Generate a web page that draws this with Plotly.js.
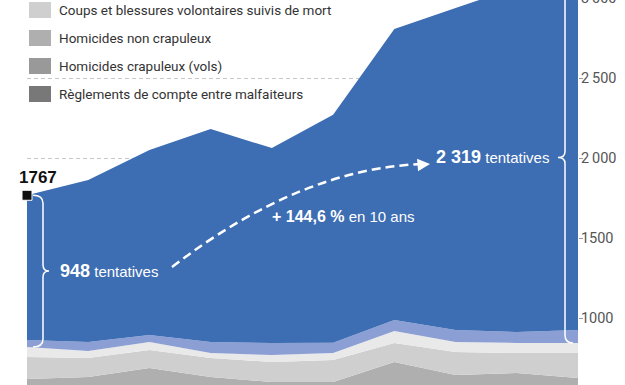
<!DOCTYPE html>
<html>
<head>
<meta charset="utf-8">
<script src="https://cdn.plot.ly/plotly-3.0.1.min.js"></script>
<style>
  html, body { margin: 0; padding: 0; background: #fff; overflow: hidden; }
  #chart { position: absolute; left: 0; top: -10px; width: 625px; height: 395px; }
</style>
</head>
<body>
<div id="chart"></div>
<script>
// ---- data ----
const years = [2009, 2010, 2011, 2012, 2013, 2014, 2015, 2016, 2017, 2018];
const reglements    = [75, 66, 68, 59, 70, 64, 57, 61, 58, 66];
const crapuleux     = [60, 55, 55, 53, 50, 45, 45, 40, 42, 40];
const nonCrapuleux  = [484, 510, 565, 519, 480, 491, 623, 543, 556, 519];
const coupsMort     = [137, 119, 112, 119, 125, 138, 119, 144, 125, 156];
const enfants       = [63, 44, 50, 31, 44, 44, 75, 62, 63, 63];
const tentCrap      = [43, 56, 44, 69, 75, 63, 69, 75, 68, 81];
const tentAutres    = [905, 1012, 1156, 1331, 1218, 1425, 1818, 2012, 2156, 2238];

const legendNames = [
  "Coups et blessures volontaires suivis de mort",
  "Homicides non crapuleux",
  "Homicides crapuleux (vols)",
  "Règlements de compte entre malfaiteurs"
];
const tickVals = [1000, 1500, 2000, 2500, 3000];
const tickText = ["1000", "1500", "2\u2009000", "2\u2009500", "3\u2009000"];

// ---- styles ----
const C_BLUE = "#3d6db2", C_PERI = "#8b9fd5", C_LIGHT = "#e9e9e9",
      C_COUPS = "#cfcfcf", C_NONC = "#afafaf", C_CRAP = "#999999", C_REG = "#787878";
const F_NARROW = 'Roboto, "Liberation Sans", sans-serif';
const F_SANS = '"Liberation Sans", Arial, sans-serif';

const layers = [
  {y: reglements, c: C_REG, n: legendNames[3]},
  {y: crapuleux, c: C_CRAP, n: legendNames[2]},
  {y: nonCrapuleux, c: C_NONC, n: legendNames[1]},
  {y: coupsMort, c: C_COUPS, n: legendNames[0]},
  {y: enfants, c: C_LIGHT, n: "enfants"},
  {y: tentCrap, c: C_PERI, n: "tentatives (vols)"},
  {y: tentAutres, c: C_BLUE, n: "tentatives"}
];

const traces = layers.map(l => ({
  type: "scatter", x: years, y: l.y, name: l.n, stackgroup: "one",
  mode: "none", fillcolor: l.c, line: {width: 0}, showlegend: false, hoverinfo: "skip"
}));

const totals = years.map((_, i) => layers.reduce((s, l) => s + l.y[i], 0));
const tent = years.map((_, i) => tentAutres[i] + tentCrap[i]);
const first = 0, last = years.length - 1;

traces.push({
  type: "scatter", x: [years[first]], y: [totals[first]], mode: "markers",
  marker: {symbol: "square", size: 10, color: "#111", line: {color: "#fff", width: 1}},
  cliponaxis: false, showlegend: false, hoverinfo: "skip"
});

// ---- geometry helpers (plot area in page pixels) ----
const L = 27, R = 578, T = -10, B = 385;
const px = x => (x - L) / (R - L);
const py = y => (B - y) / (B - T);
const U = 6.25; // data units per pixel on y

function brace(xe, xs, xt, top, bot) {
  const mid = (top + bot) / 2;
  return `M${px(xe)},${top} Q${px(xs)},${top} ${px(xs)},${top - 8*U} L${px(xs)},${mid + 6*U} Q${px(xs)},${mid} ${px(xt)},${mid} Q${px(xs)},${mid} ${px(xs)},${mid - 6*U} L${px(xs)},${bot + 8*U} Q${px(xs)},${bot} ${px(xe)},${bot}`;
}

const fmt = n => String(n).replace(/\B(?=(\d{3})+(?!\d))/g, "\u00a0");
const pct = ((tent[last] / tent[first] - 1) * 100).toFixed(1).replace(".", ",");

const shapes = [
  {type: "path", xref: "paper", yref: "y", path: brace(33, 43, 49, totals[first], totals[first] - tent[first]),
   line: {color: "#fff", width: 1.5}},
  {type: "path", xref: "paper", yref: "y", path: brace(573, 565, 558, totals[last], totals[last] - tent[last]),
   line: {color: "#fff", width: 1.5}},
  {type: "path", xref: "paper", yref: "paper",
   path: `M${px(172)},${py(267)} Q${px(301)},${py(168)} ${px(423)},${py(164)}`,
   line: {color: "#fff", width: 2.5, dash: "9px,5px"}}
];

const annotations = [
  {xref: "x", yref: "y", x: years[first], y: totals[first], xshift: 11, yshift: 18,
   xanchor: "center", yanchor: "middle",
   text: "<b>" + totals[first] + "</b>", showarrow: false,
   font: {family: F_SANS, size: 17, color: "#111"}},
  {xref: "paper", yref: "y", x: px(58), y: totals[first] - tent[first] / 2, xanchor: "left", yanchor: "middle",
   text: '<span style="font-weight:bold;font-size:18px">' + fmt(tent[first]) + '</span> tentatives',
   showarrow: false, font: {family: F_SANS, size: 15, color: "#fff"}},
  {xref: "paper", yref: "y", x: px(551), y: totals[last] - tent[last] / 2, xanchor: "right", yanchor: "middle",
   text: '<span style="font-weight:bold;font-size:18px">' + fmt(tent[last]) + '</span> tentatives',
   showarrow: false, font: {family: F_SANS, size: 15, color: "#fff"}},
  {xref: "paper", yref: "paper", x: px(343), y: py(217), xanchor: "center", yanchor: "middle",
   text: '<span style="font-weight:bold;font-size:16px">+ ' + pct + ' %</span> en 10 ans',
   showarrow: false, font: {family: F_SANS, size: 15, color: "#fff"}},
  {xref: "paper", yref: "paper", x: px(430), y: py(164), ax: -12, ay: 1, text: "",
   showarrow: true, arrowhead: 2, arrowsize: 1, arrowwidth: 2.5, arrowcolor: "#fff"}
];

// manual legend (top-left)
const legColors = [C_COUPS, C_NONC, C_CRAP, C_REG];
legendNames.forEach((n, i) => {
  const cy = 10 + i * 28;
  shapes.push({type: "rect", xref: "paper", yref: "paper", x0: px(29), x1: px(51),
    y0: py(cy + 8), y1: py(cy - 8), fillcolor: legColors[i], line: {width: 0}});
  annotations.push({xref: "paper", yref: "paper", x: px(57), y: py(cy), xanchor: "left", yanchor: "middle",
    text: n, showarrow: false, font: {family: F_NARROW, size: 13.5, color: "#333"}});
});

const layout = {
  width: 625, height: 395,
  margin: {l: L, r: 625 - R, t: 0, b: 0},
  paper_bgcolor: "#fff", plot_bgcolor: "#fff",
  showlegend: false,
  xaxis: {range: [years[first], years[last]], visible: false, fixedrange: true},
  yaxis: {
    range: [581.25, 3050], side: "right", tickvals: tickVals, ticktext: tickText,
    ticks: "outside", ticklen: 4, tickcolor: "#9a9a9a", tickwidth: 1,
    ticklabeloverflow: "allow", ticklabelstandoff: -5,
    showgrid: true, gridcolor: "rgba(0,0,0,0.22)", griddash: "4px,3px", gridwidth: 1,
    zeroline: false, showline: false, layer: "above traces",
    tickfont: {family: F_NARROW, size: 14.5, color: "#555"}, fixedrange: true
  },
  shapes: shapes,
  annotations: annotations
};

Plotly.newPlot("chart", traces, layout, {staticPlot: true, displayModeBar: false});
</script>
</body>
</html>
